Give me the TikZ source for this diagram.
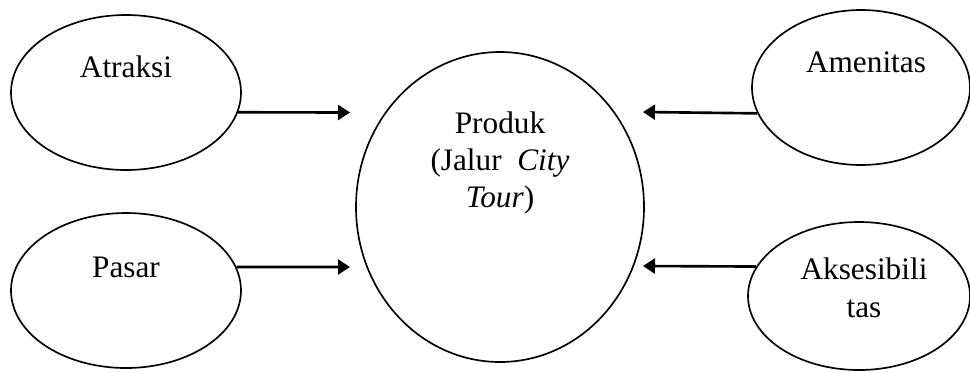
\documentclass[tikz,border=0pt]{standalone}
\usepackage{fontspec}
\setmainfont{Liberation Serif}
\usetikzlibrary{positioning}
\usetikzlibrary{shapes.geometric}
\usetikzlibrary{arrows.meta}
\tikzset{bubble/.style={draw, ellipse, line width=0.95pt, inner sep=0pt}}
\tikzset{word/.style={font=\fontsize{17.8}{21.3}\selectfont, inner sep=0pt, align=center}}
\tikzset{feed/.style={-{Triangle[length=2.4mm, width=3mm]}, line width=1.5pt}}

\begin{document}
\begin{tikzpicture}
    \useasboundingbox (0, 0) rectangle (19.4, -7.44);

    \node[bubble, minimum width=4.6cm, minimum height=3.1cm] (atraksi) at (2.52, -1.85) {};
    \node[bubble, minimum width=4.6cm, minimum height=3.1cm] (pasar) at (2.52, -5.81) {};
    \node[bubble, minimum width=5.76cm, minimum height=6.2cm] (produk) at (10, -4.14) {};
    \node[bubble, minimum width=4.36cm, minimum height=3.1cm] (amenitas) at (17.22, -1.75) {};
    \node[bubble, minimum width=4.44cm, minimum height=2.96cm] (aksesibilitas) at (17.18, -5.92) {};

    \node[word, anchor=base] (atraksiT) at ([yshift=3.1mm]atraksi.center) {Atraksi};
    \node[word, anchor=base] (pasarT) at ([yshift=2.7mm]pasar.center) {Pasar};
    \node[word] (produkT) at ([yshift=8.8mm]produk.center)
        {Produk\\(Jalur\ \ \textit{City}\\\textit{Tour})};
    \node[word, anchor=base] (amenitasT) at ([xshift=1mm, yshift=3.1mm]amenitas.center) {Amenitas};
    \node[word] (aksesibilitasT) at ([xshift=1mm, yshift=1.6mm]aksesibilitas.center) {Aksesibili\\tas};

    \coordinate (toA) at (7.0, -2.25);
    \coordinate (toP) at (7.0, -5.34);
    \coordinate (toM) at (12.86, -2.24);
    \coordinate (toK) at (12.86, -5.32);

    \draw[feed] (atraksi.-10.5) -- (toA);
    \draw[feed] (pasar.12) -- (toP);
    \draw[feed] (amenitas.194.5) -- (toM);
    \draw[feed] (aksesibilitas.164.8) -- (toK);
\end{tikzpicture}
\end{document}
